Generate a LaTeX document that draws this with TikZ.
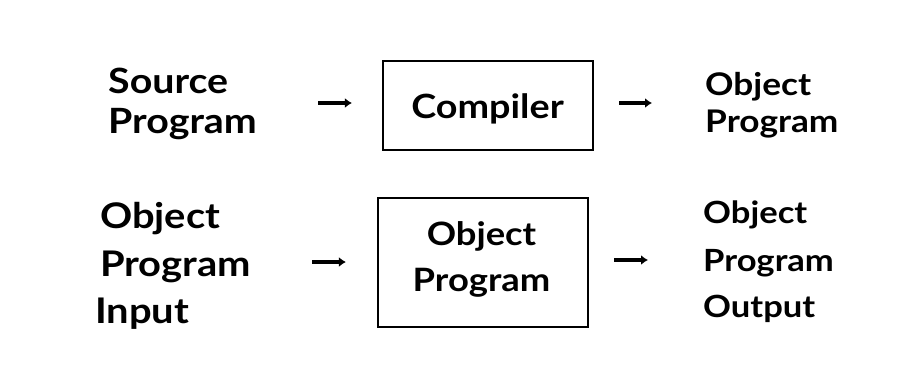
\documentclass[tikz,border=0pt]{standalone}
\usepackage{fontspec}
\setmainfont{Lato}[FakeStretch=1.13]
\usetikzlibrary{arrows.meta}
\begin{document}
\begin{tikzpicture}[x=1pt,y=-1pt,
  txt/.style={inner sep=0pt,font=\fontsize{#1}{#1}\selectfont\bfseries},
  lft/.style={txt=#1,anchor=base west},
  mid/.style={txt=#1,anchor=base},
  procbox/.style={draw,line width=2.2pt,inner sep=0pt},
  arr/.style={line width=3.6pt,-{Latex[length=7pt,width=10pt]}}]
\useasboundingbox (0,0) rectangle (904,370);
% first row: the compiler translates the source program
\node[lft=34.8] (src1) at (108,93) {Source};
\node[lft=34.8] (src2) at (108,133) {Program};
\node[procbox,minimum width=210pt,minimum height=89pt] (comp) at (488,105.5) {};
\node[mid=33.4] (compt) at (487.5,118) {Compiler};
\node[lft=31.2] (obj1) at (705,95) {Object};
\node[lft=31.2] (obj2) at (705,132) {Program};
\coordinate (a1) at (318,103);
\coordinate (a2) at (652,103);
\draw[arr,shorten >=30pt] (a1) -- (a1 -| comp.west);
\draw[arr,shorten <=25pt] (comp.east |- a2) -- (a2);
% second row: the object program runs on its input
\node[lft=35.3] (inp1) at (100,228) {Object};
\node[lft=35.3] (inp2) at (100,276) {Program};
\node[lft=35.3] (inp3) at (95,323) {Input};
\node[procbox,minimum width=210pt,minimum height=129pt] (run) at (483,262.5) {};
\node[mid=32.2] (run1) at (481.5,245) {Object};
\node[mid=32.2] (run2) at (481.5,291) {Program};
\node[lft=30.6] (out1) at (703,223) {Object};
\node[lft=30.6] (out2) at (703,271) {Program};
\node[lft=30.6] (out3) at (703,317) {Output};
\coordinate (b1) at (312,262);
\coordinate (b2) at (648,260);
\draw[arr,shorten >=31pt] (b1) -- (b1 -| run.west);
\draw[arr,shorten <=25pt] (run.east |- b2) -- (b2);
\end{tikzpicture}
\end{document}
